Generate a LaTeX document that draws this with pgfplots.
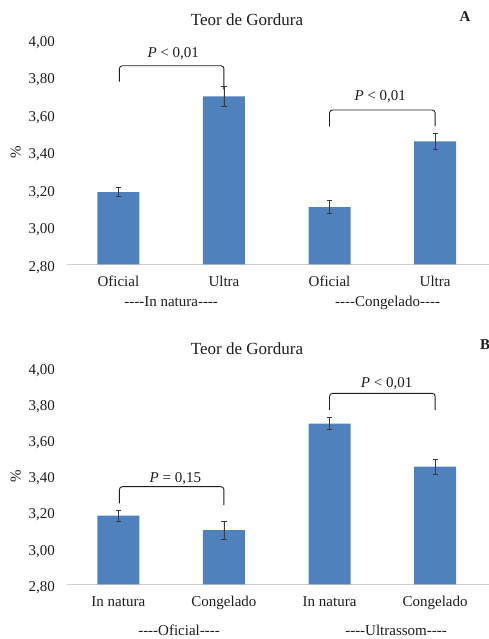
\documentclass[border=0pt]{standalone}
\usepackage{fontspec}
\setmainfont{Liberation Serif}[Ligatures=TeXOff]
\usepackage{pgfplots}
\pgfplotsset{compat=1.18}
\definecolor{barblue}{HTML}{4F81BD}
\definecolor{axisgray}{HTML}{D0D0D0}
\definecolor{errgray}{HTML}{3A3A3A}
\definecolor{txt}{HTML}{1E1E1E}
\tikzset{bracket/.style={draw=txt, line width=0.9pt, rounded corners=3pt}}
\pgfplotsset{
  fatstyle/.style={
    scale only axis, width=422.3pt, anchor=south west,
    xmin=-0.489, xmax=3.51, ymin=2.8, ymax=4.0,
    ybar, bar width=42pt,
    axis x line*=bottom, axis y line*=left,
    y axis line style={draw=none},
    x axis line style={draw=axisgray, line width=0.9pt},
    major tick length=0pt,
    ytick={2.8,3.0,3.2,3.4,3.6,3.8,4.0},
    xtick={0,1,2,3},
    yticklabel={\pgfmathprintnumber[fixed,fixed zerofill,precision=2,use comma,assume math mode=true]{\tick}},
    yticklabel style={xshift=-8.4pt, yshift=-3pt, text=txt},
    xticklabel style={text height=11pt, text depth=3pt, text=txt, yshift=-8pt},
    font=\fontsize{15}{18}\selectfont,
    ylabel={\%},
    ylabel style={at={(axis description cs:-0.1208,0.5)}, anchor=center, text=txt},
    clip mode=individual,
    error bars/y dir=both, error bars/y explicit,
    error bars/error bar style={color=errgray, line width=0.6pt},
    error bars/error mark options={rotate=90, mark size=2.6pt, color=errgray, line width=0.6pt},
  },
}
\begin{document}
\begin{tikzpicture}
\path[use as bounding box] (0pt,0pt) rectangle (489pt,639pt);
% ---------- Chart A ----------
\node[font=\fontsize{17}{20}\selectfont, text=txt] at (247pt,619pt) {Teor de Gordura};
\node[font=\bfseries\fontsize{15}{18}\selectfont, text=txt] at (465pt,622pt) {A};
\begin{axis}[fatstyle, at={(66.7pt,374.7pt)}, height=225pt,
  xticklabels={Oficial,Ultra,Oficial,Ultra}]
\addplot[fill=barblue, draw=none] coordinates {
  (0,3.185) +- (0,0.025)
  (1,3.695) +- (0,0.053)
  (2,3.105) +- (0,0.035)
  (3,3.455) +- (0,0.044)
};
\draw[bracket] (axis cs:0.01,3.774) |- (axis cs:0.5,3.859) -| (axis cs:1,3.733);
\node[text=txt] at (axis cs:0.52,3.925) {\textit{P} < 0,01};
\draw[bracket] (axis cs:2,3.534) |- (axis cs:2.5,3.623) -| (axis cs:3,3.537);
\node[text=txt] at (axis cs:2.48,3.694) {\textit{P} < 0,01};
\node[text=txt, anchor=base] at (axis cs:0.5,2.8) [yshift=-42.4pt] {----In natura----};
\node[text=txt, anchor=base] at (axis cs:2.55,2.8) [yshift=-42.4pt] {----Congelado----};
\end{axis}
% ---------- Chart B ----------
\node[font=\fontsize{17}{20}\selectfont, text=txt] at (247pt,290.7pt) {Teor de Gordura};
\node[font=\bfseries\fontsize{15}{18}\selectfont, text=txt] at (485pt,294pt) {B};
\begin{axis}[fatstyle, at={(66.7pt,54.7pt)}, height=216.6pt,
  xticklabels={In natura,Congelado,In natura,Congelado}]
\addplot[fill=barblue, draw=none] coordinates {
  (0,3.18) +- (0,0.03)
  (1,3.10) +- (0,0.051)
  (2,3.69) +- (0,0.034)
  (3,3.452) +- (0,0.043)
};
\draw[bracket] (axis cs:0.01,3.249) |- (axis cs:0.5,3.341) -| (axis cs:1,3.239);
\node[text=txt] at (axis cs:0.54,3.387) {\textit{P} = 0,15};
\draw[bracket] (axis cs:2,3.766) |- (axis cs:2.5,3.858) -| (axis cs:3,3.766);
\node[text=txt] at (axis cs:2.54,3.91) {\textit{P} < 0,01};
\node[text=txt, anchor=base] at (axis cs:0.575,2.8) [yshift=-51.5pt] {----Oficial----};
\node[text=txt, anchor=base] at (axis cs:2.63,2.8) [yshift=-51.5pt] {----Ultrassom----};
\end{axis}
\end{tikzpicture}
\end{document}
